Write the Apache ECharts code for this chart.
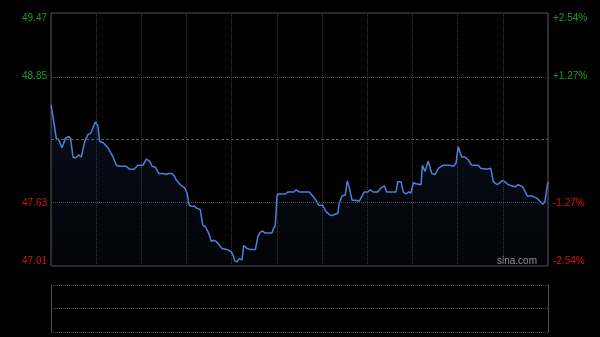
<!DOCTYPE html>
<html><head><meta charset="utf-8">
<script src="https://cdn.jsdelivr.net/npm/echarts@6/dist/echarts.min.js"></script>
<style>html,body{margin:0;padding:0;background:#000;}#c{width:600px;height:337px;}</style>
</head><body><div id="c"></div>
<script>
// minutes since market open (HK session, 330 trading minutes)
const minutes = [0,2,3.5,5,7.3,9.5,11.8,13,14.6,16.1,18.4,20.1,21.2,22.4,24.6,26.4,29.4,31.2,32.3,34.5,37.8,41.2,43.4,45.6,50,52.3,55.1,57.8,59.6,61.1,63.3,65.5,67.1,69.3,71.5,74.4,76.6,78.2,80.3,82.1,83,85.9,88.8,90.3,91.8,93.6,95.4,96.9,99.1,100.7,102.5,104.7,106.4,108,109.6,111.4,113.5,116.9,119.7,121.3,122,123.5,125,126.8,128,130.1,132.3,135.7,137.4,139,140.5,142.3,146.7,147.9,148.9,150.1,151.6,155.6,157.4,161.2,162.7,164.9,171.5,173.8,176,177.8,180.4,182.6,184.8,186.6,188.1,190.4,191.4,193.2,195.4,196.7,198.1,199.9,202.5,204.7,205.8,208,210.3,211.8,214,216.9,219.1,221.3,222.9,229.1,230.2,232.4,233.9,235.7,237.5,239,240.6,242.4,245.7,246.6,248.3,250.5,252.8,255,257.2,260.5,264.9,267.1,268.9,270.4,271.6,272.7,274.9,277.1,279.3,283.7,285.3,289.3,292,293.7,294.8,296.3,298.1,299.3,301.5,303.6,308.1,310.3,313.2,316.3,319.2,322.5,324.7,326.5,328,330];
const prices = [48.58,48.40,48.25,48.24,48.16,48.25,48.27,48.25,48.07,48.06,48.09,48.07,48.06,48.22,48.29,48.30,48.41,48.37,48.22,48.21,48.16,48.07,47.99,47.98,47.98,47.95,47.95,47.99,47.99,47.99,48.05,48.03,47.98,47.97,47.91,47.91,47.90,47.91,47.91,47.88,47.85,47.80,47.77,47.72,47.60,47.59,47.59,47.57,47.56,47.41,47.39,47.33,47.25,47.26,47.25,47.22,47.18,47.17,47.15,47.10,47.06,47.05,47.08,47.07,47.21,47.18,47.17,47.17,47.30,47.34,47.35,47.33,47.33,47.38,47.40,47.70,47.71,47.71,47.73,47.73,47.75,47.73,47.73,47.69,47.65,47.60,47.60,47.54,47.51,47.50,47.51,47.52,47.62,47.69,47.70,47.84,47.77,47.65,47.65,47.64,47.65,47.73,47.73,47.75,47.73,47.73,47.77,47.79,47.73,47.73,47.83,47.83,47.73,47.71,47.73,47.72,47.82,47.81,47.80,47.99,47.93,48.03,47.91,47.90,47.96,47.99,47.99,47.98,48.01,48.17,48.17,48.07,48.07,48.04,47.99,47.99,47.96,47.95,47.96,47.83,47.82,47.80,47.82,47.84,47.83,47.80,47.78,47.80,47.78,47.69,47.69,47.67,47.64,47.61,47.64,47.83];
const priceMin = 47.01, priceMax = 49.47, preClose = 48.24;
const pctTicks = [-2.54, -1.27, 0, 1.27, 2.54];
const priceLabels = ['47.01', '47.63', '', '48.85', '49.47'];
const pctLabels = ['-2.54%', '-1.27%', '', '+1.27%', '+2.54%'];
const refLines = [48.85, 47.63];

const GREEN = '#1f9c1f', RED = '#d01418', BORDER = '#505050';
const tickIndex = v => Math.round((v + 2.54) / 1.27);
const labelColor = v => v > 0 ? GREEN : RED;

const chart = echarts.init(document.getElementById('c'), null, {renderer: 'canvas'});
chart.setOption({
  backgroundColor: '#000',
  animation: false,
  grid: [
    {left: 51, top: 13, width: 497, height: 253, show: true, borderColor: BORDER, borderWidth: 1, backgroundColor: 'transparent'},
    {left: 51, top: 285, width: 497, height: 47, show: false}
  ],
  xAxis: [
    {type: 'value', gridIndex: 0, min: 0, max: 330, interval: 30,
     axisLine: {show: false}, axisTick: {show: false}, axisLabel: {show: false},
     splitLine: {show: true, lineStyle: {color: '#3a3a3a', type: [1, 1], width: 1}}},
    {type: 'value', gridIndex: 1, min: 0, max: 330,
     axisLine: {show: false}, axisTick: {show: false}, axisLabel: {show: false}, splitLine: {show: false}}
  ],
  yAxis: [
    {type: 'value', gridIndex: 0, min: priceMin, max: priceMax, show: false, splitLine: {show: false}},
    {type: 'value', gridIndex: 0, position: 'left', min: -2.54, max: 2.54, interval: 1.27,
     axisLine: {show: false}, axisTick: {show: false}, splitLine: {show: false},
     axisLabel: {margin: 4, fontSize: 10, fontFamily: 'Liberation Sans, Arial, sans-serif',
       formatter: v => priceLabels[tickIndex(v)], color: v => labelColor(v),
       verticalAlignMinLabel: 'bottom', verticalAlignMaxLabel: 'top'}},
    {type: 'value', gridIndex: 0, position: 'right', min: -2.54, max: 2.54, interval: 1.27,
     axisLine: {show: false}, axisTick: {show: false}, splitLine: {show: false},
     axisLabel: {margin: 5, fontSize: 10, fontFamily: 'Liberation Sans, Arial, sans-serif',
       formatter: v => pctLabels[tickIndex(v)], color: v => labelColor(v),
       verticalAlignMinLabel: 'bottom', verticalAlignMaxLabel: 'top'}},
    {type: 'value', gridIndex: 1, position: 'left', min: 0, max: 2, interval: 1,
     axisLine: {show: true, lineStyle: {color: BORDER, width: 1}}, axisTick: {show: false}, axisLabel: {show: false},
     splitLine: {show: true, lineStyle: {color: '#4a4a4a', type: [1, 1], width: 1}}},
    {type: 'value', gridIndex: 1, position: 'right', min: 0, max: 2, interval: 1,
     axisLine: {show: true, lineStyle: {color: BORDER, width: 1}}, axisTick: {show: false}, axisLabel: {show: false},
     splitLine: {show: false}}
  ],
  series: [{
    type: 'line', xAxisIndex: 0, yAxisIndex: 0,
    data: minutes.map((m, i) => [m, prices[i]]),
    showSymbol: false, smooth: false,
    lineStyle: {color: '#4d80d8', width: 1.5},
    areaStyle: {origin: 'start', color: new echarts.graphic.LinearGradient(0, 0, 0, 1, [
      {offset: 0, color: 'rgba(40,70,140,0.30)'}, {offset: 1, color: 'rgba(30,50,100,0.10)'}])},
    markLine: {
      silent: true, symbol: 'none', label: {show: false}, animation: false,
      data: [
        ...refLines.map(p => ({yAxis: p, lineStyle: {color: '#4c4c4c', type: [1, 1], width: 1}})),
        {yAxis: preClose, lineStyle: {color: '#5a5a5a', type: [3, 2], width: 1}}
      ]
    },
    z: 3
  }],
  graphic: [{
    type: 'text', right: 63, top: 256,
    style: {text: 'sina.com', fill: '#9a9a9a', font: '10px "Liberation Sans", Arial, sans-serif'}
  }]
});
</script></body></html>
